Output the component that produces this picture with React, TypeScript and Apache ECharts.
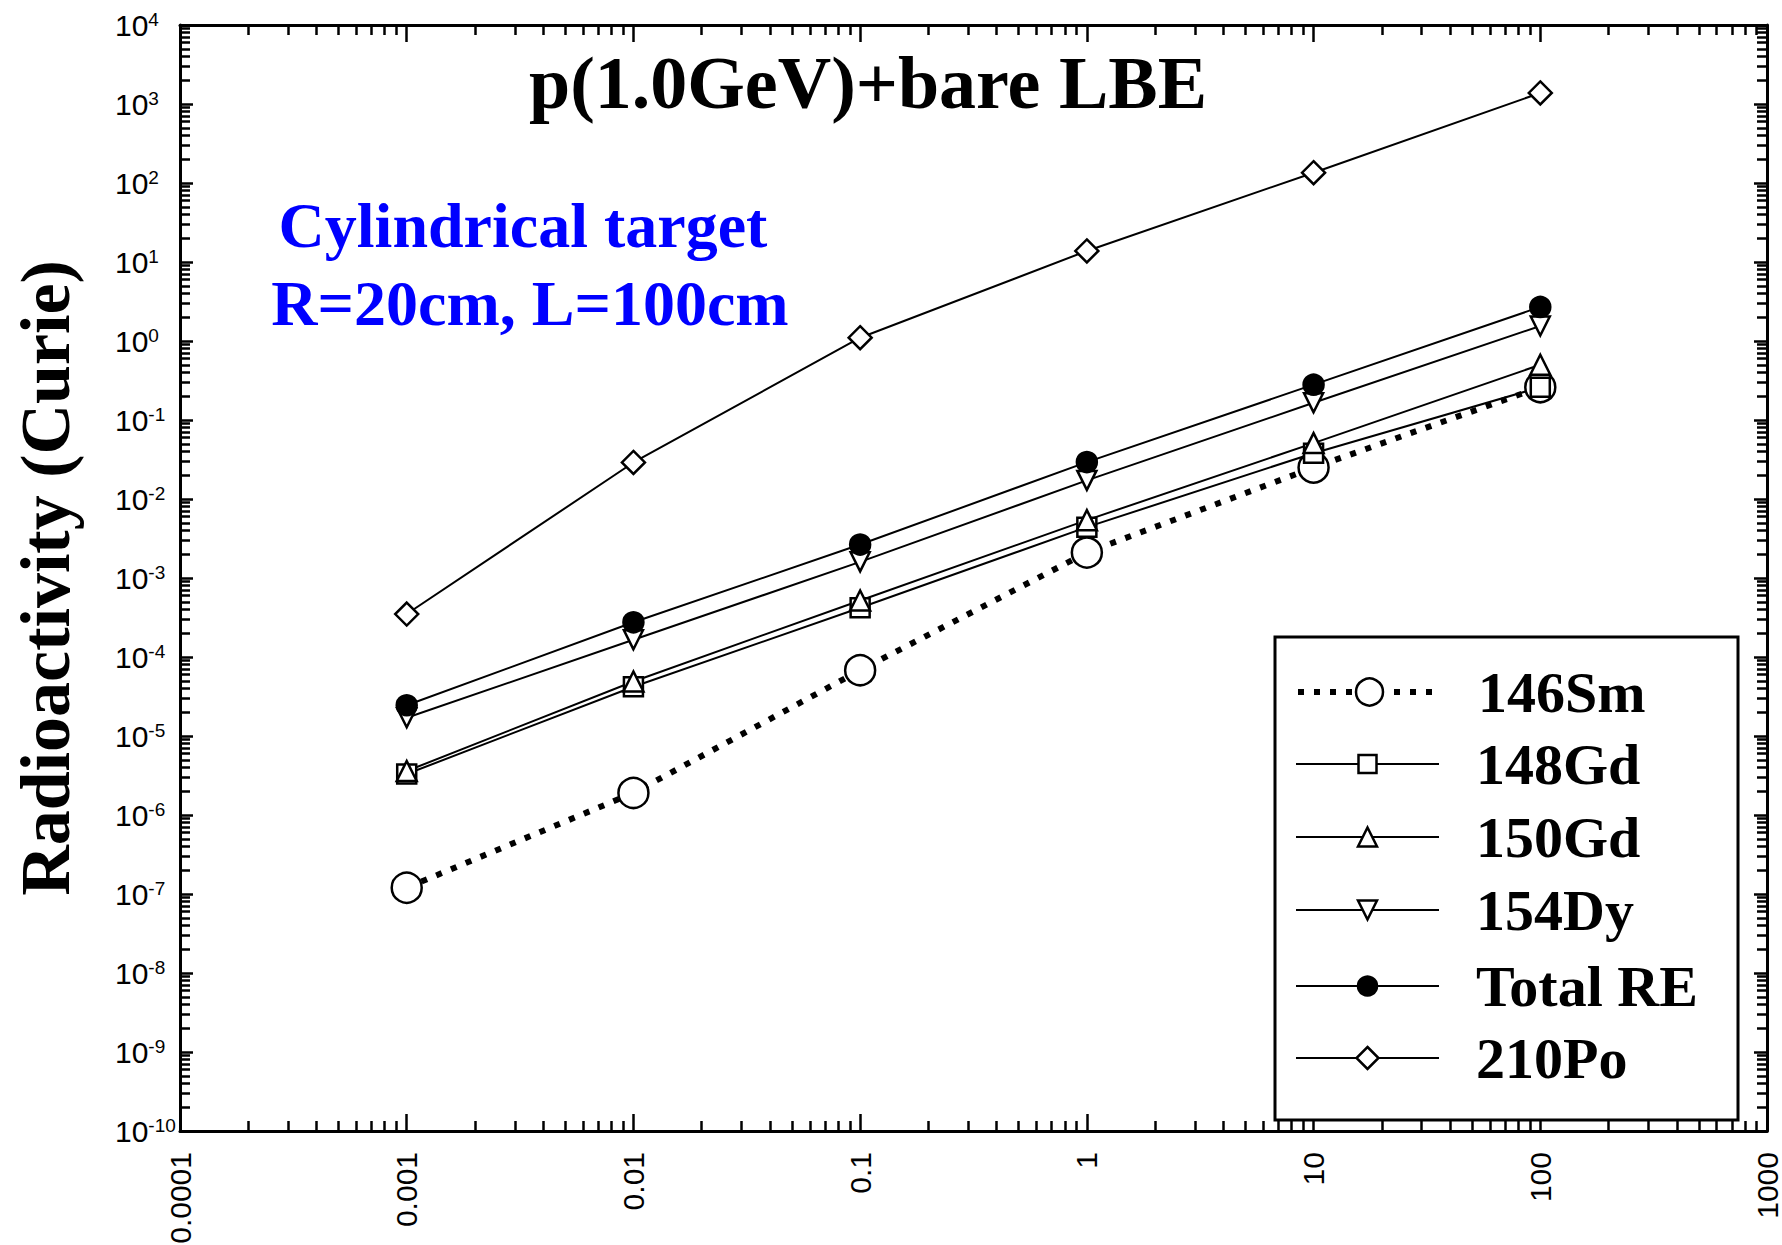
import React, { useEffect, useRef } from "react";
import * as echarts from "echarts";

// Decay time points (horizontal axis, log scale)
const timeValues = [0.001, 0.01, 0.1, 1, 10, 100];

// Radioactivity (Curie) per nuclide at each time point
const sm146 = [1.2e-7, 1.9e-6, 6.8e-5, 2.1e-3, 0.025, 0.26];
const gd148 = [3.3e-6, 4.2e-5, 4.2e-4, 4.4e-3, 0.038, 0.26];
const gd150 = [3.6e-6, 4.9e-5, 5.2e-4, 5.4e-3, 0.051, 0.5];
const dy154 = [1.7e-5, 1.65e-4, 1.6e-3, 0.0172, 0.165, 1.55];
const totalRE = [2.45e-5, 2.75e-4, 2.65e-3, 0.0293, 0.28, 2.7];
const po210 = [3.5e-4, 0.029, 1.1, 13.8, 135, 1380];

const seriesNames = ["146Sm", "148Gd", "150Gd", "154Dy", "Total RE", "210Po"];
const seriesValues = [sm146, gd148, gd150, dy154, totalRE, po210];

// Tick labels
const xTickLabels = ["0.0001", "0.001", "0.01", "0.1", "1", "10", "100", "1000"];
const X_MIN_EXP = -4;
const X_MAX_EXP = 3;
const Y_MIN_EXP = -10;
const Y_MAX_EXP = 4;

// Marker styling per series
const markerStyles = [
  { symbol: "circle", size: 30, fill: "#fff", rotate: 0, dotted: true, legendSize: 27 },
  { symbol: "rect", size: 19, fill: "#fff", rotate: 0, dotted: false, legendSize: 18 },
  { symbol: "triangle", size: 20, fill: "#fff", rotate: 0, dotted: false, legendSize: 19 },
  { symbol: "triangle", size: 19, fill: "#fff", rotate: 180, dotted: false, legendSize: 19 },
  { symbol: "circle", size: 20, fill: "#000", rotate: 0, dotted: false, legendSize: 19 },
  { symbol: "diamond", size: 23, fill: "#fff", rotate: 0, dotted: false, legendSize: 22 },
];

// Legend layout
const LEGEND_ROW_Y = [692, 764, 837, 910, 986, 1058];
const LEGEND_LEFT = 1295;

const SERIF = '"Liberation Serif", "Times New Roman", serif';
const SANS = '"Liberation Sans", Arial, sans-serif';

function minorTickExps(lo: number, hi: number): number[] {
  const out: number[] = [];
  for (let n = lo; n < hi; n++) {
    for (let k = 2; k <= 9; k++) out.push(n + Math.log10(k));
  }
  return out;
}

const tickLine = { color: "#000", width: 2.5 };

function frameAxis(
  position: string,
  min: number,
  max: number,
  withLine: boolean,
  length: number,
  custom: number[] | null,
  label: any
) {
  const axisTick: any = { show: true, inside: true, length, lineStyle: tickLine };
  if (custom) axisTick.customValues = custom;
  return {
    type: "value",
    position,
    min,
    max,
    interval: 1,
    silent: true,
    axisLine: { show: withLine, onZero: false, lineStyle: { color: "#000", width: 3 } },
    axisTick,
    axisLabel: label || { show: false },
    splitLine: { show: false },
  };
}

export default function App() {
  const ref = useRef<HTMLDivElement>(null);

  useEffect(() => {
    if (!ref.current) return;
    const chart = echarts.init(ref.current, null, { renderer: "svg" });

    const xMinor = minorTickExps(X_MIN_EXP, X_MAX_EXP);
    const yMinor = minorTickExps(Y_MIN_EXP, Y_MAX_EXP);

    const xLabel = {
      show: true,
      rotate: 90,
      margin: 21,
      fontSize: 30,
      fontFamily: SANS,
      color: "#000",
      formatter: (v: number) => xTickLabels[Math.round(v) - X_MIN_EXP] ?? "",
    };

    const yLabel = {
      show: true,
      align: "left",
      margin: 65,
      formatter: (v: number) => `{b|10}{s|${Math.round(v)}}`,
      rich: {
        b: { fontSize: 30, fontFamily: SANS, color: "#000", lineHeight: 30 },
        s: { fontSize: 19, fontFamily: SANS, color: "#000", lineHeight: 14, verticalAlign: "top" },
      },
    };

    const series = seriesNames.map((name, i) => {
      const m = markerStyles[i];
      return {
        type: "line",
        name,
        xAxisIndex: 0,
        yAxisIndex: 0,
        data: timeValues.map((t, j) => [t, seriesValues[i][j]]),
        symbol: m.symbol,
        symbolSize: m.size,
        symbolRotate: m.rotate,
        showAllSymbol: true,
        silent: true,
        lineStyle: {
          color: "#000",
          width: m.dotted ? 6 : 2,
          type: m.dotted ? [6, 10] : "solid",
          cap: "butt",
        },
        itemStyle: { color: m.fill, borderColor: "#000", borderWidth: 2.5 },
        emphasis: { disabled: true },
      };
    });

    const legends = seriesNames.map((name, i) => {
      const m = markerStyles[i];
      return {
        data: [name],
        orient: "vertical",
        left: LEGEND_LEFT,
        top: LEGEND_ROW_Y[i] - 29,
        padding: 0,
        itemGap: 0,
        itemWidth: 143,
        itemHeight: m.legendSize / 0.8,
        selectedMode: false,
        lineStyle: { width: m.dotted ? 6 : 2 },
        itemStyle: { borderWidth: 2.5 },
        textStyle: {
          fontFamily: SERIF,
          fontWeight: "bold",
          fontSize: 58,
          color: "#000",
          lineHeight: 40,
          padding: [0, 0, 0, 32],
        },
      };
    });

    chart.setOption({
      animation: false,
      backgroundColor: "#fff",
      grid: { left: 180, right: 15, top: 25, bottom: 114, containLabel: false, outerBoundsMode: "none" },
      xAxis: [
        { type: "log", logBase: 10, min: 1e-4, max: 1e3, show: false },
        frameAxis("bottom", X_MIN_EXP, X_MAX_EXP, true, 17, null, xLabel),
        frameAxis("bottom", X_MIN_EXP, X_MAX_EXP, false, 10, xMinor, null),
        frameAxis("top", X_MIN_EXP, X_MAX_EXP, true, 17, null, null),
        frameAxis("top", X_MIN_EXP, X_MAX_EXP, false, 10, xMinor, null),
      ],
      yAxis: [
        { type: "log", logBase: 10, min: 1e-10, max: 1e4, show: false },
        frameAxis("left", Y_MIN_EXP, Y_MAX_EXP, true, 13, null, yLabel),
        frameAxis("left", Y_MIN_EXP, Y_MAX_EXP, false, 10, yMinor, null),
        frameAxis("right", Y_MIN_EXP, Y_MAX_EXP, true, 13, null, null),
        frameAxis("right", Y_MIN_EXP, Y_MAX_EXP, false, 10, yMinor, null),
      ],
      legend: legends,
      series,
      graphic: [
        {
          type: "rect",
          z: 3,
          silent: true,
          shape: { x: 1275, y: 637, width: 463, height: 483 },
          style: { fill: "#fff", stroke: "#000", lineWidth: 3 },
        },
        {
          type: "text",
          x: 868,
          y: 83,
          silent: true,
          style: {
            text: "p(1.0GeV)+bare LBE",
            font: `bold 74px ${SERIF}`,
            fill: "#000",
            align: "center",
            verticalAlign: "middle",
          },
        },
        {
          type: "text",
          x: 523,
          y: 225,
          silent: true,
          style: {
            text: "Cylindrical target",
            font: `bold 64px ${SERIF}`,
            fill: "#0000ff",
            align: "center",
            verticalAlign: "middle",
          },
        },
        {
          type: "text",
          x: 530,
          y: 303,
          silent: true,
          style: {
            text: "R=20cm, L=100cm",
            font: `bold 64px ${SERIF}`,
            fill: "#0000ff",
            align: "center",
            verticalAlign: "middle",
          },
        },
        {
          type: "text",
          x: 45,
          y: 578,
          rotation: Math.PI / 2,
          silent: true,
          style: {
            text: "Radioactivity (Curie)",
            font: `bold 70px ${SERIF}`,
            fill: "#000",
            align: "center",
            verticalAlign: "middle",
          },
        },
      ],
    });

    return () => chart.dispose();
  }, []);

  return (
    <div
      ref={ref}
      style={{ position: "absolute", left: 0, top: 0, width: 1782, height: 1245, background: "#fff" }}
    />
  );
}
